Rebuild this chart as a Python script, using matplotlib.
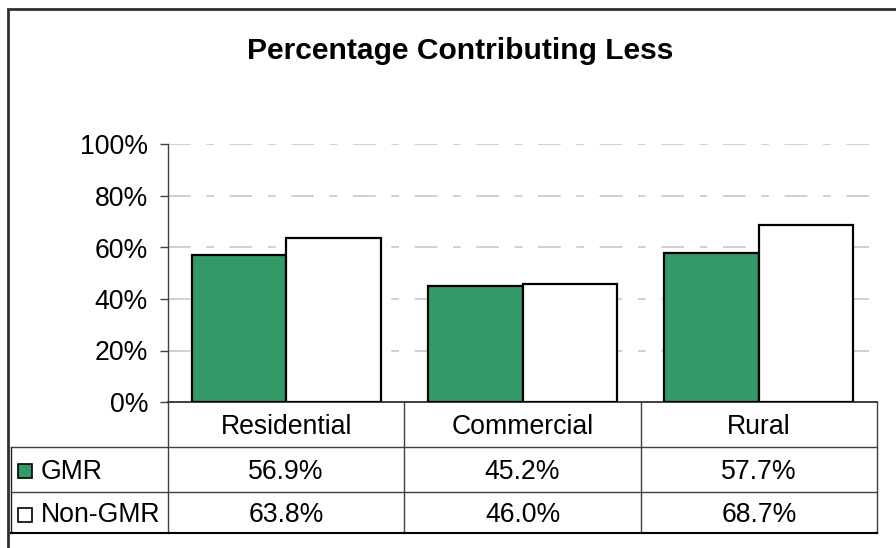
import matplotlib
matplotlib.use("Agg")
import matplotlib.pyplot as plt
from matplotlib.lines import Line2D
from matplotlib.patches import Rectangle
import matplotlib.transforms as mtransforms
import numpy as np

# Data
title = "Percentage Contributing Less"
categories = ["Residential", "Commercial", "Rural"]
series_names = ["GMR", "Non-GMR"]
gmr = [56.9, 45.2, 57.7]
non_gmr = [63.8, 46.0, 68.7]
y_ticks = [0, 20, 40, 60, 80, 100]
y_tick_labels = ["0%", "20%", "40%", "60%", "80%", "100%"]

GREEN = "#339966"
FONT = "Liberation Sans"
FS = 19.2

W, H = 896, 548
fig = plt.figure(figsize=(W / 100, H / 100), dpi=100)
fig.patch.set_facecolor("white")


def fx(px):
    return px / W


def fy(py):
    return 1 - py / H


# Plot area
ax_l, ax_r, ax_b, ax_t = 168, 877, 402, 144.5
ax = fig.add_axes([fx(ax_l), fy(ax_b), fx(ax_r - ax_l), fy(ax_t) - fy(ax_b)])
ax.set_xlim(-0.5, len(categories) - 0.5)
ax.set_ylim(0, 100)
ax.set_facecolor("white")

x = np.arange(len(categories))
bw = 0.4
ax.bar(x - bw / 2, gmr, bw, color=GREEN, edgecolor="black", linewidth=1.6, zorder=3)
ax.bar(x + bw / 2, non_gmr, bw, color="white", edgecolor="black", linewidth=1.6, zorder=3)

# Gridlines (long-short dash)
for t in y_ticks[1:]:
    ax.axhline(t, color="#c8c8c8", linewidth=1.2, zorder=1,
               dashes=(13.6, 9.4, 4.6, 9.4))

for s in ["top", "right"]:
    ax.spines[s].set_visible(False)
ax.spines["left"].set_color("#404040")
ax.spines["left"].set_linewidth(1.0)
ax.spines["bottom"].set_color("#303030")
ax.spines["bottom"].set_linewidth(1.3)

ax.set_yticks(y_ticks)
ax.set_yticklabels(y_tick_labels, fontfamily=FONT, fontsize=FS)
ax.tick_params(axis="y", length=5.8, width=1.0, color="#404040", pad=8.6)
ax.set_xticks([])

# Title
fig.text(fx(460), fy(59), title, ha="center", va="baseline",
         fontfamily=FONT, fontsize=21.6, fontweight="bold")

# Data table below the plot
bt = mtransforms.blended_transform_factory(ax.transData, fig.transFigure)
row_lines = [402, 446.7, 491.7, 533.3]
table_left = 11
col_edges = [-0.5, 0.5, 1.5, 2.5]
line_col = "#404040"

# vertical column separators
for ce in col_edges:
    fig.add_artist(Line2D([ce, ce], [fy(row_lines[0]), fy(row_lines[-1])],
                          transform=bt, color=line_col, linewidth=1.0))
# legend-column left edge
fig.add_artist(Line2D([fx(table_left)] * 2, [fy(row_lines[1]), fy(row_lines[-1])],
                      transform=fig.transFigure, color="#202020", linewidth=1.0))
# horizontal row lines
for i, ry in enumerate(row_lines[1:]):
    fig.add_artist(Line2D([fx(table_left), fx(ax_r)], [fy(ry)] * 2,
                          transform=fig.transFigure,
                          color="black" if i == 2 else line_col,
                          linewidth=1.5 if i == 2 else 1.0))

# header row: category names
hy = (row_lines[0] + row_lines[1]) / 2
for xi, c in zip(x, categories):
    fig.text(xi, fy(hy), c, transform=bt, ha="center", va="center_baseline",
             fontfamily=FONT, fontsize=FS)

# value rows with legend keys
rows = [(series_names[0], gmr, GREEN), (series_names[1], non_gmr, "white")]
for r, (name, vals, col) in enumerate(rows):
    cy = (row_lines[r + 1] + row_lines[r + 2]) / 2
    top, bot = cy - 5, cy + 9
    fig.add_artist(Rectangle((fx(17.5), fy(bot)), fx(14), fy(top) - fy(bot),
                             transform=fig.transFigure, facecolor=col,
                             edgecolor="black", linewidth=1.2))
    fig.text(fx(41), fy(cy), name, ha="left", va="center_baseline",
             fontfamily=FONT, fontsize=FS)
    for xi, v in zip(x, vals):
        fig.text(xi, fy(cy), f"{v:.1f}%", transform=bt, ha="center",
                 va="center_baseline", fontfamily=FONT, fontsize=FS)

# Chart-area frame
fig.add_artist(Rectangle((fx(8), fy(560)), fx(900 - 8), fy(9) - fy(560),
                         transform=fig.transFigure, facecolor="none",
                         edgecolor="#303030", linewidth=2.0))

fig.savefig("out.png", dpi=100, facecolor="white")
